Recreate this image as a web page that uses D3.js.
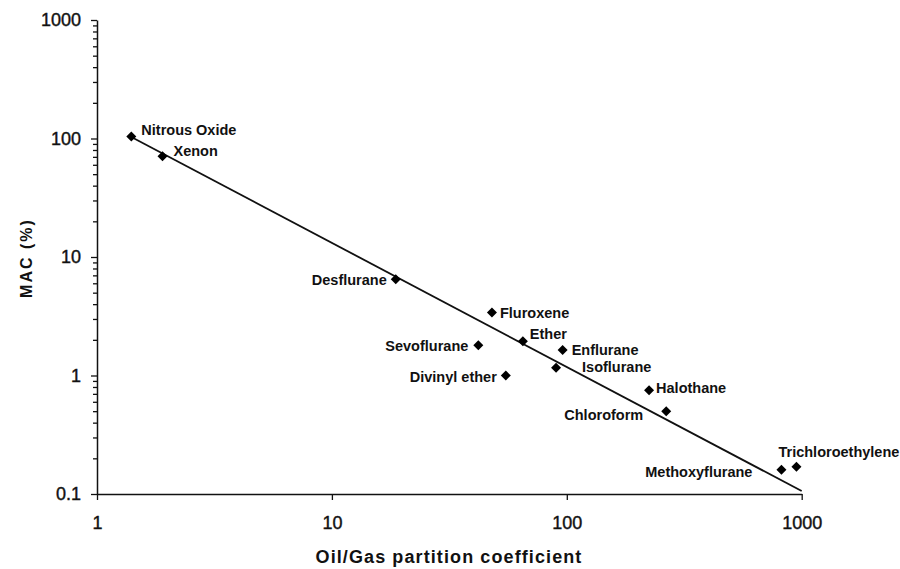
<!DOCTYPE html>
<html>
<head>
<meta charset="utf-8">
<script src="https://cdn.jsdelivr.net/npm/d3@7"></script>
<style>
  body { margin: 0; background: #fff; }
  svg { display: block; font-family: "Liberation Sans", Arial, sans-serif; }
</style>
</head>
<body>
<div id="chart"></div>
<script>
// anaesthetic agents: oil/gas partition coefficient vs MAC
var agents = ["Nitrous Oxide", "Xenon", "Desflurane", "Fluroxene", "Ether", "Sevoflurane",
              "Enflurane", "Isoflurane", "Divinyl ether", "Halothane", "Chloroform",
              "Methoxyflurane", "Trichloroethylene"];
var oilGas = [1.4, 1.9, 18.7, 48, 65, 42, 96, 90, 55, 224, 265, 820, 950];
var mac    = [104, 71, 6.5, 3.4, 1.95, 1.8, 1.64, 1.16, 1.0, 0.75, 0.5, 0.16, 0.17];

var xTicks = [1, 10, 100, 1000];
var yTicks = [0.1, 1, 10, 100, 1000];

// regression line MAC = k * x^slope
var trendK = 146.6, trendSlope = -1.047;
var trendFrom = 1.4, trendTo = 1000;

// label placement: [dx, dy, anchor]
var labelPos = [[10,-1,"start"],[11,0,"start"],[-9,6,"end"],[8,5,"start"],[7,-2,"start"],
                [-10,6,"end"],[9,5,"start"],[26,4,"start"],[-9,6,"end"],[7,3,"start"],
                [-23,9,"end"],[-29,7,"end"],[-18,-10,"start"]];

var W = 900, H = 569;
var svg = d3.select("#chart").append("svg").attr("width", W).attr("height", H);

var x = d3.scaleLog().domain([1, 1000]).range([97, 801.7]);
var y = d3.scaleLog().domain([0.1, 1000]).range([494, 20]);

// minor y ticks
var minor = [];
yTicks.slice(0, -1).forEach(function(t) {
  for (var k = 2; k <= 9; k++) minor.push(t * k);
});
svg.append("g").attr("transform", "translate(97,0)")
  .call(d3.axisLeft(y).tickValues(minor).tickSize(4).tickFormat(""))
  .call(function(g) { g.select(".domain").remove(); })
  .selectAll("line").attr("stroke", "#111").attr("stroke-width", 1.3);

var yAxis = svg.append("g").attr("transform", "translate(97,0)")
  .call(d3.axisLeft(y).tickValues(yTicks).tickSize(6).tickSizeOuter(0).tickPadding(10)
    .tickFormat(function(d) { return d < 1 ? "0.1" : d3.format("d")(d); }));
yAxis.select(".domain").attr("stroke", "#111").attr("stroke-width", 1.5);
yAxis.selectAll("line").attr("stroke", "#111").attr("stroke-width", 1.3);
yAxis.selectAll("text").attr("font-size", 18).attr("fill", "#111")
  .attr("stroke", "#111").attr("stroke-width", 0.4)
  .attr("font-family", "Liberation Sans, Arial, sans-serif");

var xAxis = svg.append("g").attr("transform", "translate(0,494)")
  .call(d3.axisBottom(x).tickValues(xTicks).tickSize(6).tickSizeOuter(0).tickPadding(16)
    .tickFormat(d3.format("d")));
xAxis.select(".domain").attr("stroke", "#111").attr("stroke-width", 1.5);
xAxis.selectAll("line").attr("stroke", "#111").attr("stroke-width", 1.3);
xAxis.selectAll("text").attr("font-size", 18).attr("fill", "#111")
  .attr("stroke", "#111").attr("stroke-width", 0.4)
  .attr("font-family", "Liberation Sans, Arial, sans-serif");

// trend line
var tx = [trendFrom, trendTo];
svg.append("path")
  .datum(tx)
  .attr("d", d3.line().x(function(d) { return x(d); })
                      .y(function(d) { return y(trendK * Math.pow(d, trendSlope)); }))
  .attr("fill", "none").attr("stroke", "#111").attr("stroke-width", 1.8);

// points
var pts = agents.map(function(a, i) { return { name: a, x: oilGas[i], y: mac[i], lp: labelPos[i] }; });
var diamond = d3.symbol().type(d3.symbolSquare).size(50);
svg.append("g").selectAll("path").data(pts).join("path")
  .attr("d", diamond)
  .attr("transform", function(d) { return "translate(" + x(d.x) + "," + y(d.y) + ") rotate(45)"; })
  .attr("fill", "#000");

svg.append("g").selectAll("text").data(pts).join("text")
  .attr("x", function(d) { return x(d.x) + d.lp[0]; })
  .attr("y", function(d) { return y(d.y) + d.lp[1]; })
  .attr("text-anchor", function(d) { return d.lp[2]; })
  .attr("font-size", 14.5).attr("font-weight", "bold").attr("fill", "#111")
  .text(function(d) { return d.name; });

// axis titles
svg.append("text").attr("x", 449).attr("y", 563).attr("text-anchor", "middle")
  .attr("font-size", 18).attr("font-weight", "bold").attr("letter-spacing", 1.1).attr("fill", "#111")
  .text("Oil/Gas partition coefficient");
svg.append("text").attr("transform", "translate(32,258) rotate(-90)").attr("text-anchor", "middle")
  .attr("font-size", 16).attr("font-weight", "bold").attr("letter-spacing", 2).attr("fill", "#111")
  .text("MAC (%)");
</script>
</body>
</html>
